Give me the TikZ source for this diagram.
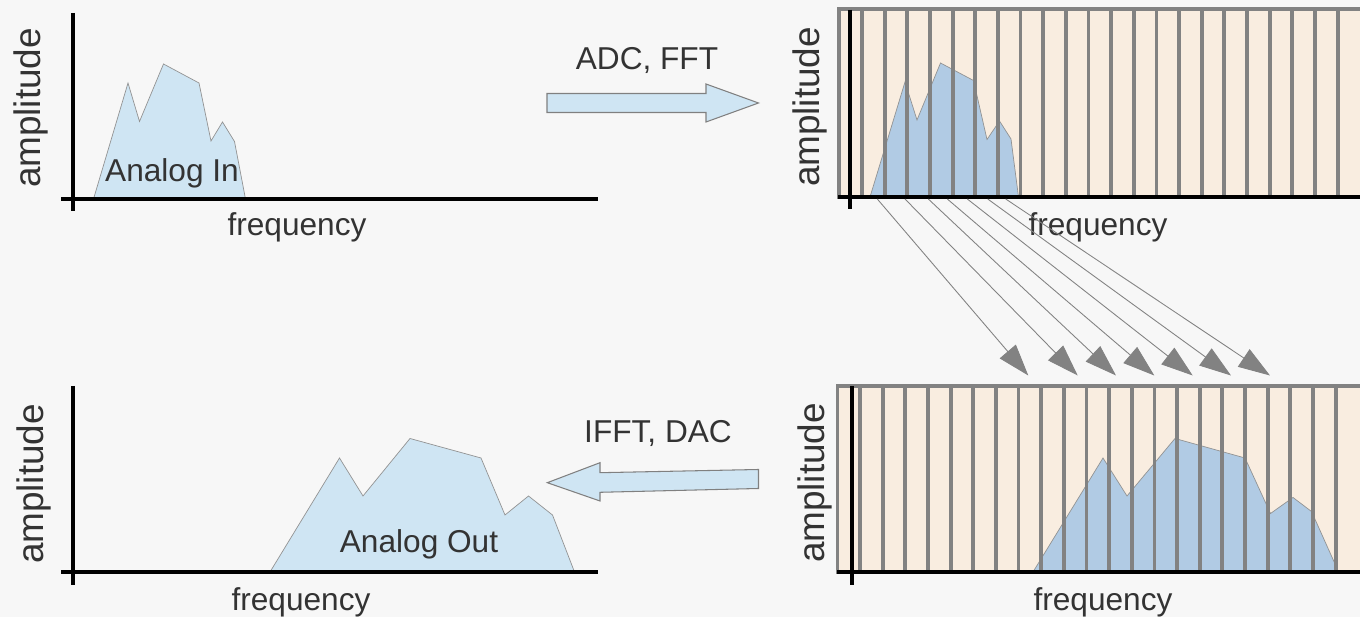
\documentclass[tikz,border=0pt]{standalone}
\usepackage{fontspec}
\setmainfont{Liberation Sans}
\usetikzlibrary{arrows.meta}

\definecolor{bgcol}{HTML}{F7F7F7}
\definecolor{sigfill}{HTML}{CFE5F3}
\definecolor{binfill}{HTML}{B1CBE4}
\definecolor{binbg}{HTML}{F9EDE0}
\definecolor{bargray}{HTML}{828282}
\definecolor{txt}{HTML}{333333}

\begin{document}
\begin{tikzpicture}[x=0.02cm,y=-0.02cm,
    axis/.style={line width=2.1pt,black},
    spectrum/.style={draw=gray!85,line width=0.4pt,line join=miter},
    bar/.style={draw=bargray,line width=2.2pt},
    binbox/.style={fill=binbg,draw=bargray,line width=2.2pt},
    lbl/.style={text=txt,font=\fontsize{18}{20}\selectfont,anchor=base},
    ylbl/.style={text=txt,font=\fontsize{21}{24}\selectfont,rotate=90},
    blockarrow/.style={fill=sigfill,draw=gray,line width=0.6pt},
    binarrow/.style={draw=bargray,line width=0.5pt,-{Triangle[length=18pt,width=12pt]}}]
    \useasboundingbox (0,0) rectangle (1360,617);
    \fill[bgcol] (0,0) rectangle (1360,617);

    % analog input
    \filldraw[fill=sigfill,spectrum] (93.5,199) -- (128,83) -- (139.5,121.5) -- (163.5,64)
        -- (199,83) -- (211,141) -- (222.5,122) -- (234.5,141.5) -- (245.5,199) -- cycle;
    \draw[axis] (61,199) -- (598,199);
    \draw[axis] (73,13) -- (73,211);
    \node[lbl] (inlabel) at (172,182) {Analog In};
    \node[ylbl] (yin) at (31,108) {amplitude};
    \node[lbl] (xin) at (297,236) {frequency};

    % ADC + FFT
    \filldraw[blockarrow] (547,93.5) -- (706,93.5) -- (706,84) -- (758.5,103)
        -- (706,122) -- (706,112.5) -- (547,112.5) -- cycle;
    \node[lbl] (fft) at (647,70) {ADC, FFT};

    % spectrum in bins
    \filldraw[binbox] (839,9) rectangle (1362,197);
    \filldraw[fill=binfill,spectrum] (870,197) -- (905,82) -- (917,120) -- (940.5,63)
        -- (973.5,80.5) -- (987,139.5) -- (999.5,121) -- (1011,139) -- (1018.5,197) -- cycle;
    \foreach \k in {0,...,21} {
        \draw[bar] ({862+22.65*\k},9) -- ({862+22.65*\k},197);
    }
    \draw[axis] (838,197) -- (1361,197);
    \draw[axis] (850,10) -- (850,209);
    \node[ylbl] (yfft) at (810,107) {amplitude};
    \node[lbl] (xfft) at (1098,236) {frequency};

    % bins moved up in frequency
    \foreach \i/\a/\b in {1/877.3/1028.3, 2/905/1077.7, 3/928.3/1116, 4/947.3/1154.3,
                          5/967.3/1192.7, 6/987.7/1231, 7/1005.7/1270} {
        \coordinate (src\i) at (\a,199);
        \coordinate (dst\i) at (\b,375.5);
        \draw[binarrow] (src\i) -- (dst\i);
    }

    % shifted spectrum in bins
    \filldraw[binbox] (837.5,386) rectangle (1362,572);
    \filldraw[fill=binfill,spectrum] (1033,572) -- (1103,458) -- (1127,496) -- (1175,438.5)
        -- (1245,458) -- (1270.5,513.5) -- (1293,497.5) -- (1311.5,511.5) -- (1335.5,565)
        -- (1335.5,572) -- cycle;
    \foreach \k in {0,...,21} {
        \draw[bar] ({860+22.65*\k},386) -- ({860+22.65*\k},572);
    }
    \draw[axis] (837,572) -- (1361,572);
    \draw[axis] (852,386) -- (852,585);
    \node[ylbl] (yifft) at (815,483) {amplitude};
    \node[lbl] (xifft) at (1103,611) {frequency};

    % IFFT + DAC
    \filldraw[blockarrow] (758.5,469.5) -- (600,472.7) -- (600,462.7) -- (547.3,482.7)
        -- (600,501) -- (600,492.3) -- (758.5,488.5) -- cycle;
    \node[lbl] (ifft) at (658,443) {IFFT, DAC};

    % analog output
    \filldraw[fill=sigfill,spectrum] (270,572) -- (339.5,458) -- (363,496) -- (410,438.5)
        -- (481,458) -- (505,515) -- (528.5,496) -- (552.5,515) -- (574.5,572) -- cycle;
    \draw[axis] (61,572.3) -- (598,572.3);
    \draw[axis] (73,386) -- (73,585);
    \node[lbl] (outlabel) at (419,552.5) {Analog Out};
    \node[ylbl] (yout) at (34,484) {amplitude};
    \node[lbl] (xout) at (301,611) {frequency};
\end{tikzpicture}
\end{document}
